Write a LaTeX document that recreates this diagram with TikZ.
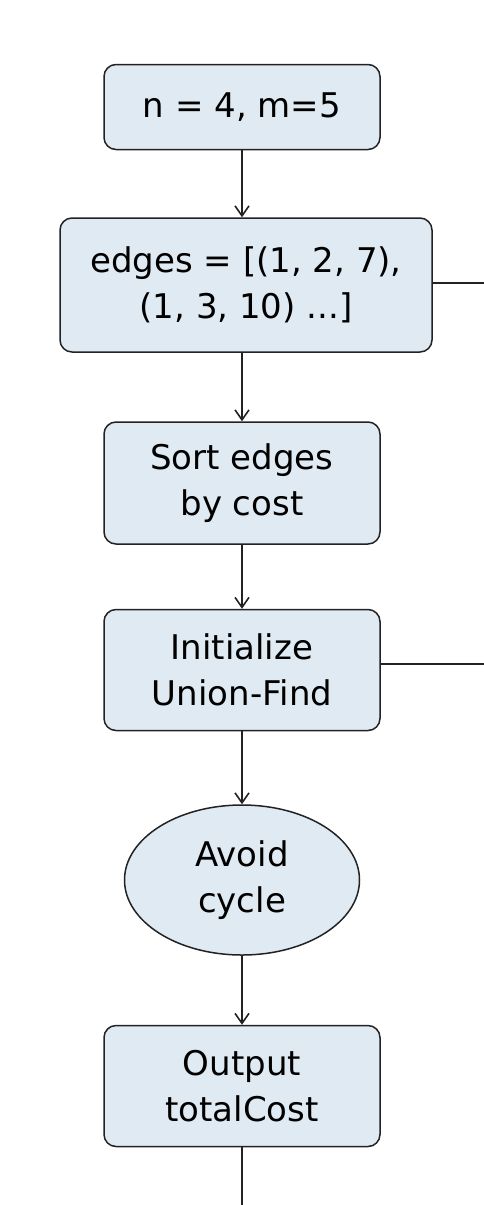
\documentclass[tikz,border=0pt]{standalone}
\usepackage{fontspec}
\setmainfont{DejaVu Sans}
\usetikzlibrary{arrows.meta,shapes.geometric}
\definecolor{boxfill}{HTML}{DFEAF2}
\definecolor{boxline}{HTML}{222222}
\tikzset{
  flowbox/.style={draw=boxline, fill=boxfill, line width=1.5pt, rounded corners=12pt,
    inner sep=0pt, align=center, font=\fontsize{34}{46}\selectfont},
  flowoval/.style={draw=boxline, fill=boxfill, line width=1.5pt, ellipse,
    inner sep=0pt, align=center, font=\fontsize{34}{46}\selectfont},
  flowarrow/.style={draw=boxline, line width=1.4pt, -{Straight Barb[length=10pt,width=14pt,line width=1.6pt]}},
  flowline/.style={draw=boxline, line width=1.4pt}
}
\begin{document}
\begin{tikzpicture}[x=1pt,y=-1pt]
    \useasboundingbox (0,0) rectangle (484,1205);

    \node[flowbox, minimum width=276pt, minimum height=85pt] (nm) at (242,107) {n = 4, m=5};
    \node[flowbox, minimum width=372pt, minimum height=134pt] (edges) at (246,285) {edges = [(1, 2, 7),\\(1, 3, 10) ...]};
    \node[flowbox, minimum width=276pt, minimum height=122pt] (sort) at (242,483) {Sort edges\\by cost};
    \node[flowbox, minimum width=276pt, minimum height=121pt] (init) at (242,670) {Initialize\\Union-Find};
    \node[flowoval, minimum width=235pt, minimum height=150pt] (cycle) at (242,880) {Avoid\\cycle};
    \node[flowbox, minimum width=276pt, minimum height=121pt] (out) at (242,1086) {Output\\totalCost};

    \coordinate (edgesR) at (484,283);
    \coordinate (initR) at (484,664);
    \coordinate (outD) at (242,1205);

    % main chain
    \draw[flowarrow] (nm.south) -- (nm.south |- edges.north);
    \draw[flowarrow] (edges.south -| sort.north) -- (sort.north);
    \draw[flowarrow] (sort.south) -- (init.north);
    \draw[flowarrow] (init.south) -- (cycle.north);
    \draw[flowarrow] (cycle.south) -- (out.north);

    % lines leaving the picture
    \draw[flowline] (edges.east |- edgesR) -- (edgesR);
    \draw[flowline] (init.east |- initR) -- (initR);
    \draw[flowline] (out.south) -- (outD);
\end{tikzpicture}
\end{document}
